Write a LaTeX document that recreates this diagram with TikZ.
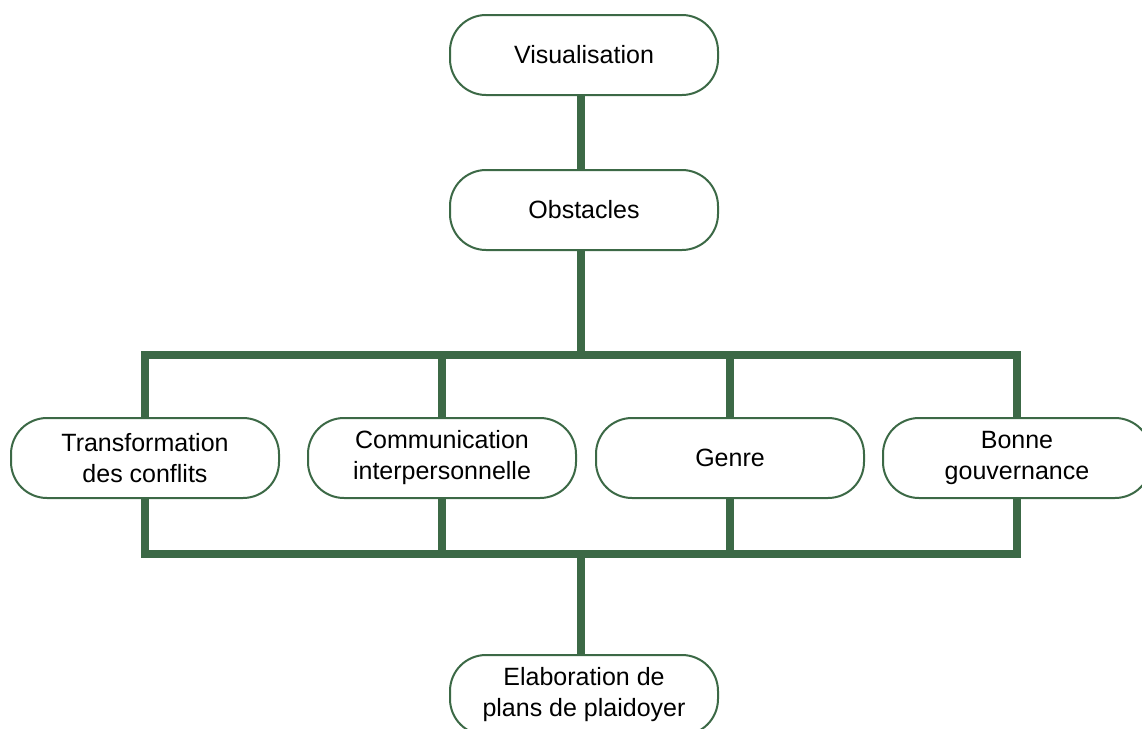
\documentclass[tikz,border=0pt]{standalone}
\usepackage{fontspec}
\setmainfont{Liberation Sans}
\usetikzlibrary{positioning}
\definecolor{planGreen}{RGB}{60,105,70}

\begin{document}
\begin{tikzpicture}[x=0.5pt,y=-0.5pt,
    font=\fontsize{12.5}{15.5}\selectfont,
    box/.style={draw=planGreen,line width=1pt,fill=white,rounded corners=18pt,
      minimum width=134pt,minimum height=40pt,align=center,inner sep=2pt},
    link/.style={draw=planGreen,line width=4pt,line join=miter}]
    \useasboundingbox (0,0) rectangle (1142,729);
    \clip (0,0) rectangle (1142,729);
    \node[box] (vis) at (584,55) {Visualisation};
    \node[box] (obs) at (584,210) {Obstacles};
    \foreach \x/\name/\txt in {
      145/conflits/{Transformation\\des conflits},
      442/communication/{Communication\\interpersonnelle},
      730/genre/{Genre},
      1017/gouvernance/{Bonne\\gouvernance}} {
        \node[box] (\name) at (\x,458) {\txt};
    }
    \node[box] (plans) at (584,695) {Elaboration de\\plans de plaidoyer};
    \coordinate (split) at (581,355);
    \coordinate (join) at (581,554);
    \draw[link] (vis.south -| split) -- (obs.north -| split);
    \draw[link] (obs.south -| split) -- (split);
    \foreach \name in {conflits,communication,genre,gouvernance} {
        \draw[link] (\name.north) |- (split);
        \draw[link] (\name.south) |- (join);
    }
    \draw[link] (join) -- (plans.north -| join);
  \end{tikzpicture}
\end{document}
